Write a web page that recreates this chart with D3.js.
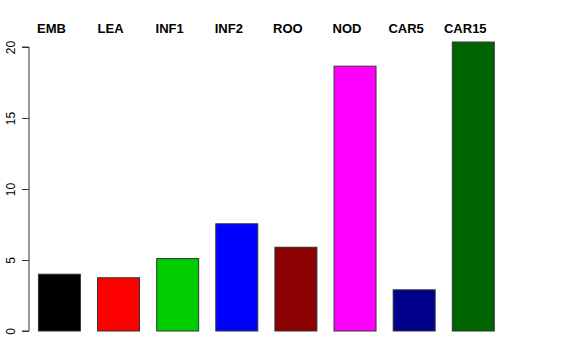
<!DOCTYPE html>
<html>
<head>
<meta charset="utf-8">
<script src="https://cdn.jsdelivr.net/npm/d3@7"></script>
<style>
  body { margin: 0; background: #fff; }
  text { font-family: "Liberation Sans", Arial, sans-serif; }
</style>
</head>
<body>
<svg id="chart" width="576" height="360"></svg>
<script>
// data
var categories = ["EMB", "LEA", "INF1", "INF2", "ROO", "NOD", "CAR5", "CAR15"];
var values = [4.0, 3.75, 5.1, 7.55, 5.9, 18.65, 2.9, 20.35];
var barColors = ["#000000", "#FF0000", "#00CD00", "#0000FF", "#8B0000", "#FF00FF", "#00008B", "#006400"];
var yTicks = [0, 5, 10, 15, 20];

var svg = d3.select("#chart");

var x = d3.scaleBand()
  .domain(categories)
  .range([26.6, 506.1])
  .paddingInner(0.29)
  .paddingOuter(0.2);

var y = d3.scaleLinear()
  .domain([0, 20])
  .range([331, 47]);

// bars
svg.selectAll("rect.bar")
  .data(categories)
  .enter().append("rect")
  .attr("class", "bar")
  .attr("x", function(d) { return x(d); })
  .attr("y", function(d, i) { return y(values[i]); })
  .attr("width", x.bandwidth())
  .attr("height", function(d, i) { return y(0) - y(values[i]); })
  .style("fill", function(d, i) { return barColors[i]; })
  .style("stroke", "#333")
  .style("stroke-width", 1);

// y axis, R style: line spans only the tick range
var axisG = svg.append("g")
  .attr("transform", "translate(29,0)")
  .call(d3.axisLeft(y).tickValues(yTicks).tickSize(7).tickPadding(9));

axisG.select(".domain")
  .attr("d", "M-7," + y(0) + "H0V" + y(20) + "H-7")
  .style("stroke", "#333");
axisG.selectAll(".tick line").style("stroke", "#333");
axisG.selectAll(".tick text")
  .attr("x", null).attr("dy", null)
  .attr("transform", "translate(-14,0) rotate(-90)")
  .style("text-anchor", "middle")
  .style("font-size", "12px")
  .style("font-family", "'Liberation Sans', Arial, sans-serif")
  .style("fill", "#000");

// category labels along the top
svg.selectAll("text.cat")
  .data(categories)
  .enter().append("text")
  .attr("class", "cat")
  .attr("x", function(d) { return x(d) + x.bandwidth() / 2 - 8; })
  .attr("y", 33)
  .style("text-anchor", "middle")
  .style("font-size", "13px")
  .style("font-weight", "bold")
  .text(function(d) { return d; });
</script>
</body>
</html>
